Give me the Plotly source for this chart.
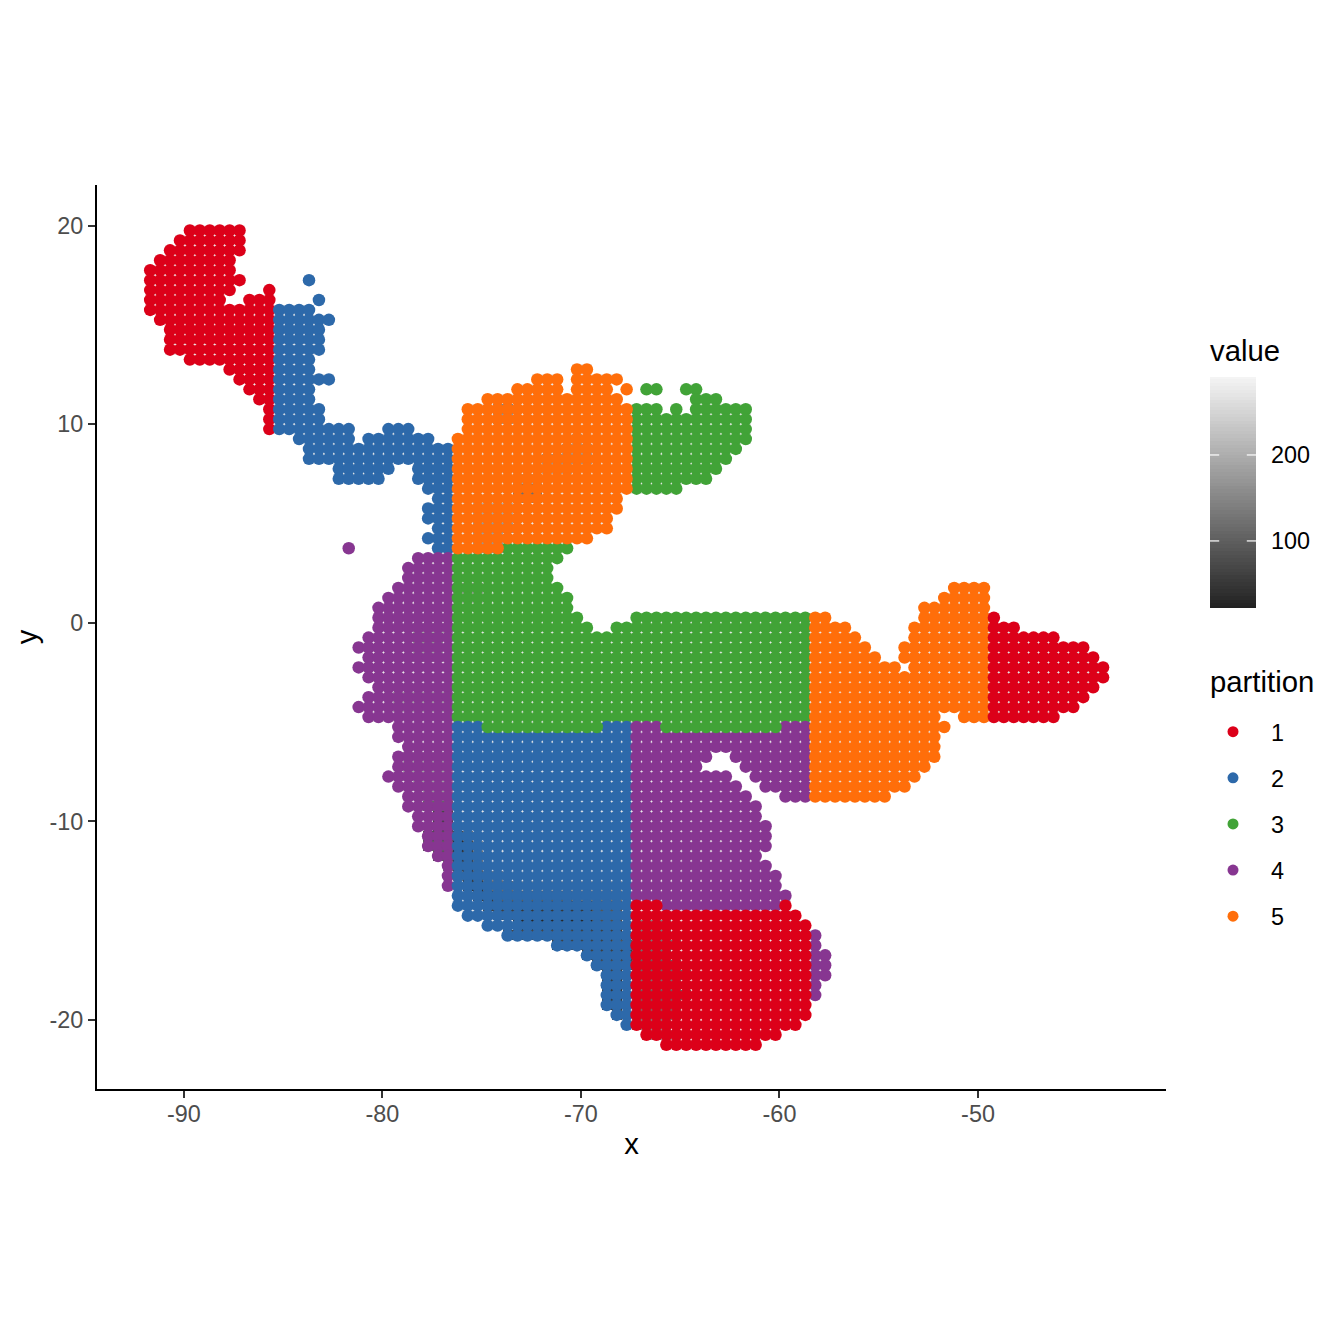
import plotly.graph_objects as go

# Grid: columns run from x = -91.7 and rows from y = 19.75 in 0.5 steps.
GRID_X0, GRID_Y0, GRID_STEP = -91.7, 19.75, 0.5
N_ROWS, N_COLS = 83, 97

# Runs of occupied cells: (row, first column, last column)
RED_NW = [(0,4,9),(1,3,9),(2,2,9),(3,1,8),(4,0,8),(5,0,9),(6,0,8),(6,12,12),(7,0,7),(7,10,12),(8,0,12),(9,1,12),
          (10,2,12),(11,2,12),(12,2,12),(13,4,12),(14,8,12),(15,9,12),(16,10,12),(17,11,12),(18,12,12),(19,12,12),(20,12,12)]
BLUE_NW = [(5,16,16),(7,17,17),(8,13,16),(9,13,18),(10,13,17),(11,13,17),(12,13,17),(13,13,16),(14,13,16),(15,13,18),
           (16,13,16),(17,13,16),(18,13,17),(19,13,17),(20,13,20),(20,24,26),(21,15,20),(21,22,28),(22,16,30),(23,16,30),
           (24,19,24),(24,27,30),(25,19,23),(25,27,30),(26,28,30),(27,29,30),(28,28,30),(29,28,30),(30,29,30),(31,28,30),(32,29,30)]
GREEN_NE = [(16,50,51),(16,54,55),(17,55,57),(18,49,51),(18,53,53),(18,55,60),(19,49,60),(20,49,60),(21,49,60),(22,49,59),
            (23,49,58),(24,49,57),(25,49,56),(26,49,53)]
ORANGE_N = [(14,43,44),(15,39,41),(15,43,47),(16,37,41),(16,43,46),(16,48,48),(17,34,47),(18,32,48),(19,32,48),(20,32,48),
            (21,31,48),(22,31,48),(23,31,48),(24,31,48),(25,31,48),(26,31,48),(27,31,47),(28,31,47),(29,31,46),(30,31,46),
            (31,31,44),(32,31,35)]
PURPLE_W = [(32,20,20),(33,27,30),(34,26,30),(35,26,30),(36,25,30),(37,24,30),(38,23,30),(39,23,30),(40,23,30),(41,22,30),
            (42,21,30),(43,22,30),(44,21,30),(45,22,30),(46,23,30),(47,22,30),(48,21,30),(49,22,30),(50,25,30),(51,25,30),
            (52,26,30),(53,25,30),(54,25,30),(55,24,30),(56,25,30),(57,26,30),(58,26,30),(59,27,30),(60,27,30),(61,28,30),
            (62,28,30),(63,29,30),(64,30,30),(65,30,30),(66,30,30)]
GREEN_MID = [(32,36,42),(33,31,41),(34,31,40),(35,31,40),(36,31,41),(37,31,42),(38,31,42),(39,31,43),(39,49,66),(40,31,44),
             (40,47,66),(41,31,66),(42,31,66),(43,31,66),(44,31,66),(45,31,66),(46,31,66),(47,31,66),(48,31,66),(49,31,66)]
GREEN_LOW = [(50,34,45),(50,52,63)]
BLUE_S = [(50,31,33),(50,46,48)] + [(r,31,48) for r in (51,52,53,54,55,56,57,58,59,60,61,62,63,64,65,66,67,68)] + \
         [(69,32,48),(70,34,48),(71,36,48),(72,41,48),(73,44,48),(74,45,48),(75,46,48),(76,46,48),(77,46,48),(78,46,48),(79,47,48),(80,48,48)]
PURPLE_MID = [(50,49,51),(50,64,66),(51,49,66),(52,49,66),(53,49,56),(53,59,66),(54,49,55),(54,60,66),(55,49,58),(55,61,66),
              (56,49,59),(56,62,66),(57,49,60),(57,64,66),(58,49,61),(59,49,61),(60,49,62),(61,49,62),(62,49,62),(63,49,61),
              (64,49,62),(65,49,63),(66,49,63),(67,49,64),(68,52,63)]
PURPLE_SE = [(71,67,67),(72,67,67),(73,67,68),(74,67,68),(75,67,68),(76,67,67),(77,67,67)]
RED_S = [(68,49,51),(68,64,64),(69,49,65),(70,49,66),(71,49,66),(72,49,66),(73,49,66),(74,49,66),(75,49,66),(76,49,66),
         (77,49,66),(78,49,66),(79,49,66),(80,49,65),(81,50,63),(82,52,61)]
ORANGE_E = [(36,81,84),(37,80,84),(38,78,84),(39,67,68),(39,78,84),(40,67,70),(40,77,84),(41,67,71),(41,77,84),(42,67,72),(42,76,84),
            (43,67,73),(43,76,84),(44,67,75),(44,77,84),(45,67,84),(46,67,84),(47,67,84),(48,67,84),(49,67,79),(49,82,84),
            (50,67,80),(51,67,79),(52,67,79),(53,67,79),(54,67,78),(55,67,77),(56,67,76),(57,67,74)]
RED_E = [(39,85,85),(40,85,87),(41,85,91),(42,85,94),(43,85,95),(44,85,96),(45,85,96),(46,85,95),(47,85,94),(48,85,93),(49,85,91)]

# Drawing sequence (later groups cover earlier ones): runs, partition
GROUPS = [(RED_NW,1),(BLUE_NW,2),(GREEN_NE,3),(PURPLE_W,4),(GREEN_MID,3),(BLUE_S,2),(PURPLE_MID,4),(GREEN_LOW,3),
          (ORANGE_N,5),(PURPLE_SE,4),(RED_S,1),(ORANGE_E,5),(RED_E,1)]
PARTITIONS = [1,2,3,4,5]
PARTITION_COLORS = {1:"#DC0019",2:"#2D69AA",3:"#41A337",4:"#873691",5:"#FF6E0A"}

VALUE_DEFAULT = 275
# Darker raster cells: (row, first column, last column, value)
VALUE_PATCHES = [
 (18,35,36,150),(19,35,36,170),(21,43,43,190),(22,42,44,180),(23,40,44,170),(24,40,42,190),(25,37,39,190),(26,37,39,120),(27,37,39,130),
 (28,33,36,200),(29,33,36,190),(30,33,36,170),(31,33,35,180),(32,33,35,170),(36,31,33,170),(37,31,33,200),
 (40,27,30,190),(41,27,29,120),(42,27,29,170),(43,27,29,190),(47,25,30,190),(48,25,30,200),
 (53,26,30,200),(54,26,30,190),(55,26,30,190),(56,27,30,190),(57,28,30,180),(58,28,30,110),(59,29,30,70),(60,29,30,60),(61,28,30,80),(62,28,30,100),(63,29,30,90),(64,30,30,120),
 (61,31,31,70),(61,32,32,130),(62,31,31,25),(62,32,32,70),(62,33,33,170),(63,31,31,40),(63,32,32,60),(63,33,33,130),
 (64,31,31,60),(64,32,32,50),(64,33,33,120),(65,31,31,120),(65,32,32,50),(65,33,33,90),(65,34,35,150),(66,32,33,40),(66,34,36,120),(66,37,47,190),
 (67,33,34,50),(67,35,42,100),(67,43,47,130),(68,34,36,60),(68,37,44,50),(68,45,47,90),(69,35,38,70),(69,39,43,45),(69,44,47,100),
 (70,37,44,30),(70,45,47,80),(71,36,42,70),(71,43,47,60),(72,41,46,60),(72,47,48,90),(73,44,48,60),(74,45,48,70),(75,46,47,60),(76,46,47,50),(77,46,47,45),(78,46,47,50),(79,47,47,80),
 (70,49,52,150),(71,49,52,140),(72,49,53,130),(73,49,52,120),(74,49,53,110),(75,49,54,120),(76,49,53,130),(77,49,54,110),(78,49,53,120),(79,49,53,130),(80,49,52,150),(81,50,53,170)]

# Axis and scale values
X_TICKS = [-90,-80,-70,-60,-50]
Y_TICKS = [-20,-10,0,10,20]
VALUE_TICKS = [100,200]
VALUE_MIN, VALUE_MAX = 22, 290.7
X_RANGE = [-94.38,-40.53]
Y_RANGE = [-23.48,22.04]
GRAY_SCALE = [[0,"#212121"],[1,"#F5F5F5"]]

W = H = 1344
FONT = "Liberation Sans, Arial, sans-serif"

def cells(runs):
    out = []
    for r, a, b in runs:
        for c in range(a, b + 1):
            out.append((r, c))
    return out

def xv(c): return GRID_X0 + GRID_STEP * c
def yv(r): return GRID_Y0 - GRID_STEP * r

patch = {}
for r, a, b, v in VALUE_PATCHES:
    for c in range(a, b + 1):
        patch[(r, c)] = v

fig = go.Figure()
for p in PARTITIONS:
    fig.add_trace(go.Scatter(x=[None], y=[None], mode="markers", name=str(p), legendgroup=f"p{p}", showlegend=True,
                             marker=dict(color=PARTITION_COLORS[p], size=11)))

# Value raster under the points; it only shows through the tiny gaps between them
raster = [[None] * N_COLS for _ in range(N_ROWS)]
for runs, p in GROUPS:
    for r, c in cells(runs):
        raster[r][c] = patch.get((r, c), VALUE_DEFAULT)
fig.add_trace(go.Heatmap(z=raster, x=[xv(c) for c in range(N_COLS)], y=[yv(r) for r in range(N_ROWS)],
                         coloraxis="coloraxis", hoverongaps=False, showlegend=False))

for runs, p in GROUPS:
    cs = cells(runs)
    fig.add_trace(go.Scatter(x=[xv(c) for r, c in cs], y=[yv(r) for r, c in cs], mode="markers", legendgroup=f"p{p}",
                             showlegend=False, hoverinfo="skip", marker=dict(color=PARTITION_COLORS[p], size=12.5, line=dict(width=0))))

ramp = list(range(VALUE_MIN, 291, 4))
fig.add_trace(go.Heatmap(z=[[v] for v in ramp], y=ramp, x=[0.5], dx=1, coloraxis="coloraxis", xaxis="x2", yaxis="y2",
                         showlegend=False, hoverinfo="skip"))

def px(v): return v / W
def py(v): return 1 - v / H

axis_common = dict(showgrid=False, zeroline=False, showline=True, linecolor="black", linewidth=2, mirror=False,
                   ticks="outside", ticklen=7, tickwidth=2, tickcolor="#333333",
                   tickfont=dict(family=FONT, size=23.4, color="#4D4D4D"))
fig.update_layout(
    width=W, height=H, autosize=False, margin=dict(l=0, r=0, t=0, b=0), paper_bgcolor="white", plot_bgcolor="white",
    font=dict(family=FONT),
    xaxis=dict(domain=[px(97), px(1166)], range=X_RANGE, tickvals=X_TICKS, ticktext=[str(t) for t in X_TICKS], ticklabelstandoff=-4,
               title=dict(text="x", font=dict(size=29.3, color="black"), standoff=7), anchor="y", **axis_common),
    yaxis=dict(domain=[py(1089), py(185)], range=Y_RANGE, tickvals=Y_TICKS, ticktext=[str(t) for t in Y_TICKS],
               title=dict(text="y", font=dict(size=29.3, color="black"), standoff=3), anchor="x", **axis_common),
    xaxis2=dict(domain=[px(1210), px(1256)], range=[0, 1], visible=False, anchor="y2"),
    yaxis2=dict(domain=[py(608), py(377)], range=[VALUE_MIN, VALUE_MAX], side="right", anchor="x2", showgrid=False, zeroline=False,
                showline=False, ticks="", tickvals=VALUE_TICKS, ticklabelstandoff=14, tickfont=dict(family=FONT, size=23.4, color="black")),
    coloraxis=dict(cmin=VALUE_MIN, cmax=VALUE_MAX, colorscale=GRAY_SCALE, showscale=False),
    legend=dict(x=px(1195), y=py(710), xanchor="left", yanchor="top", traceorder="grouped", tracegroupgap=12.7, itemsizing="trace", itemwidth=66,
                bgcolor="rgba(0,0,0,0)", font=dict(family=FONT, size=23.4, color="black")),
    annotations=[dict(text=t, xref="paper", yref="paper", x=px(1208), y=py(yy), xanchor="left", yanchor="middle", showarrow=False,
                      font=dict(family=FONT, size=29.3, color="black")) for t, yy in (("value", 350), ("partition", 681))],
    shapes=[dict(type="line", xref="x2", yref="y2", x0=a, x1=b, y0=t, y1=t, line=dict(color="white", width=1.2))
            for t in VALUE_TICKS for a, b in ((0, 0.2), (0.8, 1))],
)
fig.write_html("out.html", post_script="document.body.style.margin='0';", config={"displayModeBar": False})
